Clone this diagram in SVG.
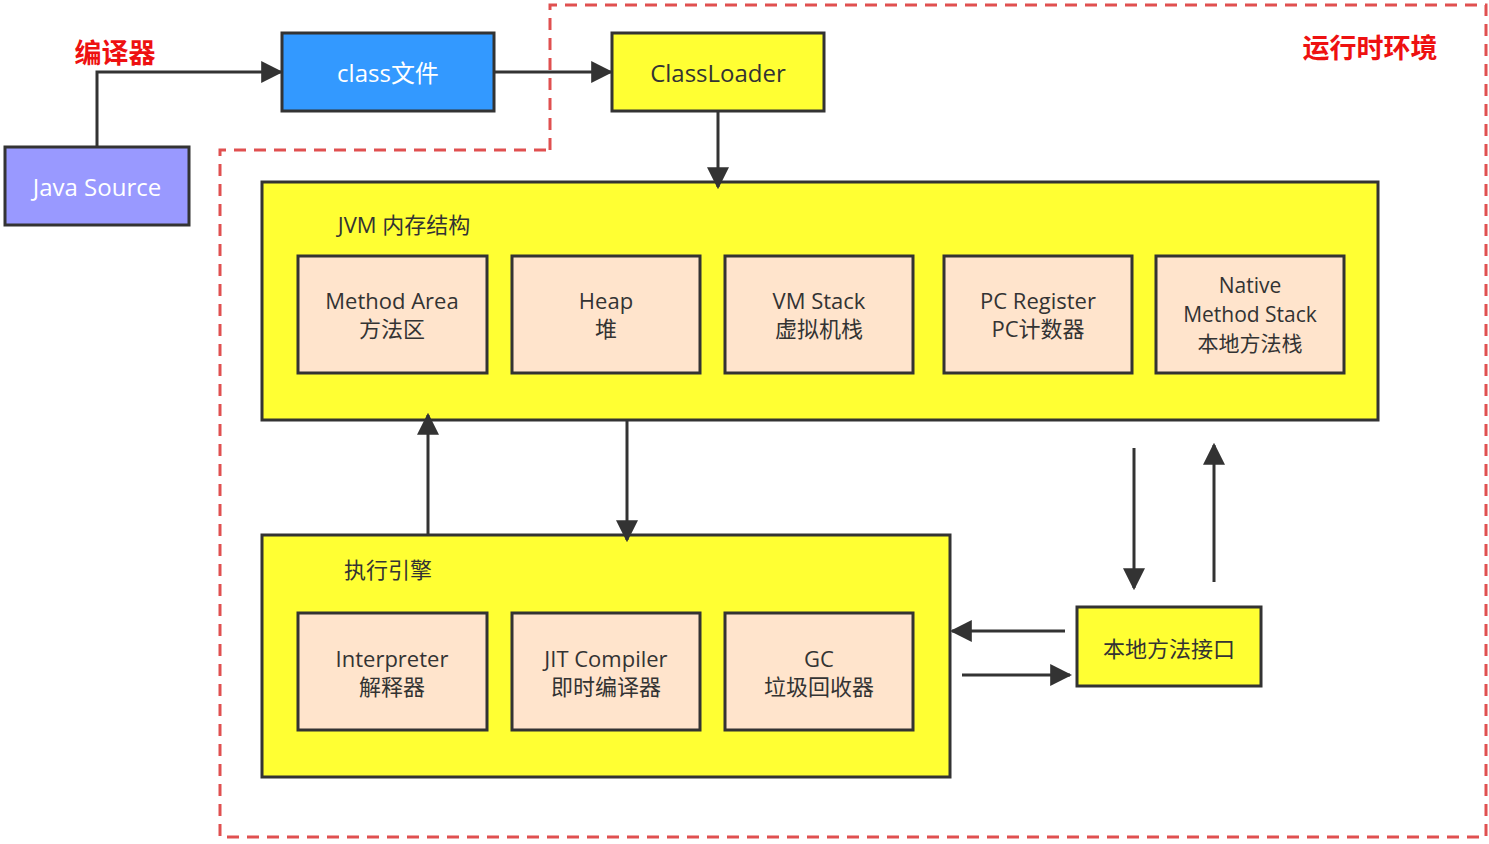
<svg xmlns="http://www.w3.org/2000/svg" width="1489" height="844" viewBox="0 0 1489 844">
<defs>
<marker id="ah" viewBox="0 0 10 10" refX="9" refY="5" markerWidth="22" markerHeight="22" markerUnits="userSpaceOnUse" orient="auto">
<path d="M0,0 L10,5 L0,10 z" fill="#333"/>
</marker>
<style>
text{font-family:"Open Sans","Noto Sans CJK SC",sans-serif;text-anchor:middle;dominant-baseline:central}
.box{stroke:#333;stroke-width:3}
.y{fill:#ffff33}
.p{fill:#ffe4cc}
.t{font-size:22px;fill:#333}
.s{font-size:21px;fill:#333}
.w{font-size:24px;fill:#fff}
.red{font-size:27px;fill:#ee1111;font-weight:bold}
.conn{stroke:#333;stroke-width:3;fill:none;marker-end:url(#ah)}
</style>
</defs>
<rect width="1489" height="844" fill="#fff"/>
<path d="M550,150 V5 H1486 V837 H220 V150 Z" fill="none" stroke="#e05050" stroke-width="3" stroke-dasharray="12,8"/>
<text class="red" x="115" y="52">编译器</text>
<text class="red" x="1370" y="47">运行时环境</text>

<g id="javasource"><rect class="box" x="5" y="147" width="184" height="78" fill="#9999ff"/><text class="w" x="97" y="186">Java Source</text></g>
<g id="classfile"><rect class="box" x="282" y="33" width="212" height="78" fill="#3399ff"/><text class="w" x="388" y="72">class文件</text></g>
<g id="classloader"><rect class="box y" x="612" y="33" width="212" height="78"/><text class="t" style="font-size:24px" x="718" y="72">ClassLoader</text></g>

<g id="jvm"><rect class="box y" x="262" y="182" width="1116" height="238"/><text class="t" x="404" y="224">JVM 内存结构</text></g>
<g id="methodarea"><rect class="box p" x="298" y="256" width="189" height="117"/><text class="t" x="392" y="300">Method Area</text><text class="t" x="392" y="328">方法区</text></g>
<g id="heap"><rect class="box p" x="512" y="256" width="188" height="117"/><text class="t" x="606" y="300">Heap</text><text class="t" x="606" y="328">堆</text></g>
<g id="vmstack"><rect class="box p" x="725" y="256" width="188" height="117"/><text class="t" x="819" y="300">VM Stack</text><text class="t" x="819" y="328">虚拟机栈</text></g>
<g id="pcregister"><rect class="box p" x="944" y="256" width="188" height="117"/><text class="t" x="1038" y="300">PC Register</text><text class="t" x="1038" y="328">PC计数器</text></g>
<g id="nativestack"><rect class="box p" x="1156" y="256" width="188" height="117"/><text class="s" x="1250" y="285">Native</text><text class="s" x="1250" y="314">Method Stack</text><text class="s" x="1250" y="343">本地方法栈</text></g>

<g id="engine"><rect class="box y" x="262" y="535" width="688" height="242"/><text class="t" x="388" y="569">执行引擎</text></g>
<g id="interpreter"><rect class="box p" x="298" y="613" width="189" height="117"/><text class="t" x="392" y="658">Interpreter</text><text class="t" x="392" y="686">解释器</text></g>
<g id="jit"><rect class="box p" x="512" y="613" width="188" height="117"/><text class="t" x="606" y="658">JIT Compiler</text><text class="t" x="606" y="686">即时编译器</text></g>
<g id="gc"><rect class="box p" x="725" y="613" width="188" height="117"/><text class="t" x="819" y="658">GC</text><text class="t" x="819" y="686">垃圾回收器</text></g>

<g id="nativeif"><rect class="box y" x="1077" y="607" width="184" height="79"/><text class="t" x="1169" y="648">本地方法接口</text></g>

<g id="connectors">
<path class="conn" d="M97,147 V72 H281"/>
<path class="conn" d="M494,72 H611"/>
<path class="conn" d="M718,111 V187"/>
<path class="conn" d="M428,535 V415"/>
<path class="conn" d="M627,420 V540"/>
<path class="conn" d="M1134,448 V588"/>
<path class="conn" d="M1214,582 V445"/>
<path class="conn" d="M1065,631 H952"/>
<path class="conn" d="M962,675 H1070"/>
</g>
</svg>
